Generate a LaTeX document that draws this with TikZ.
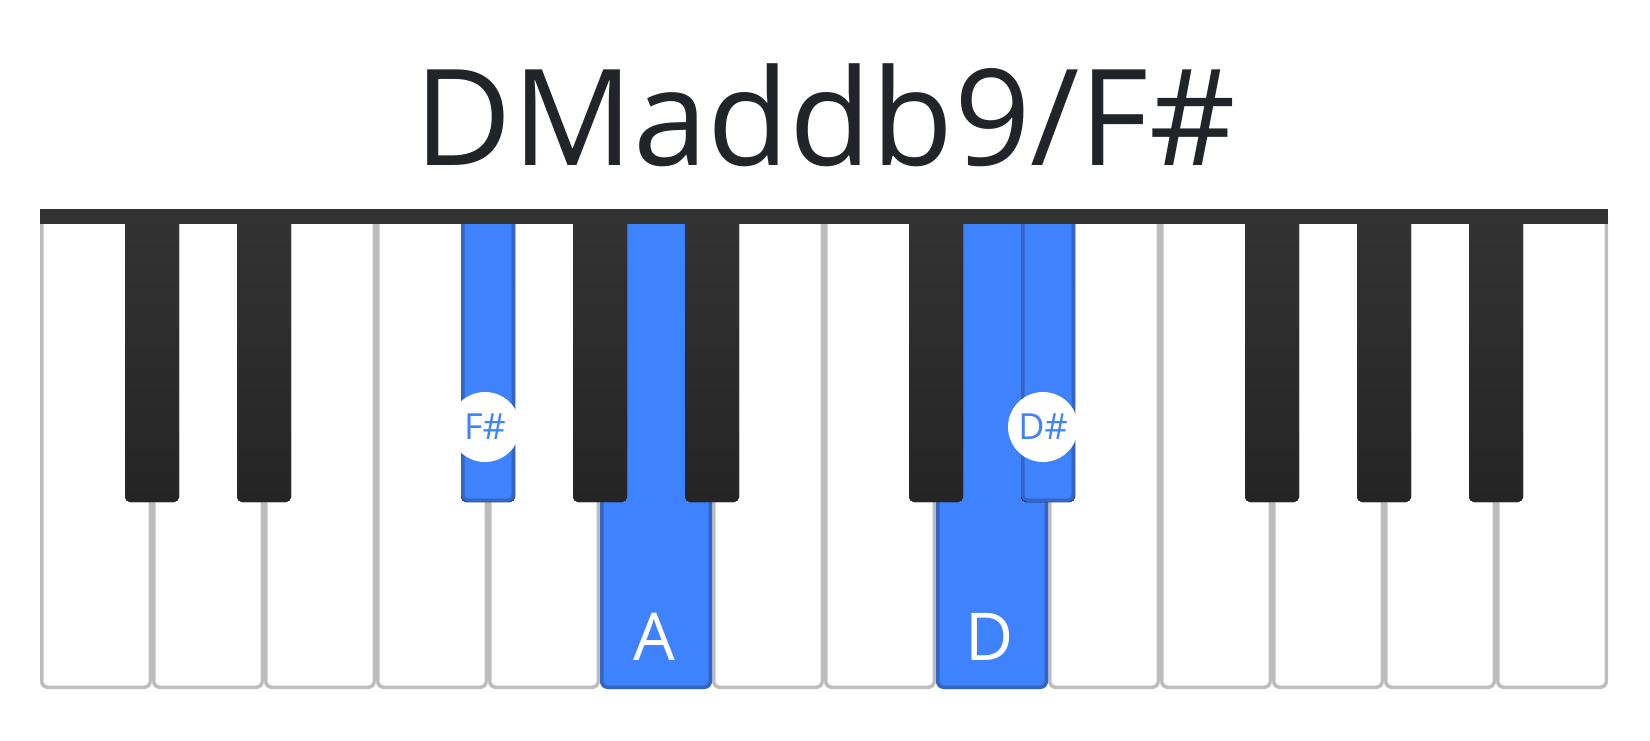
\documentclass[tikz,border=0pt]{standalone}
\usepackage{fontspec}
\setmainfont{Open Sans}
\usepackage{tikz}
\usetikzlibrary{positioning}
\definecolor{titlegray}{HTML}{212529}
\definecolor{bargray}{HTML}{333333}
\definecolor{keygray}{HTML}{BDBDBD}
\definecolor{keyblue}{HTML}{3F82FE}
\definecolor{keyblueedge}{HTML}{3366C4}
\definecolor{blacktop}{HTML}{333333}
\definecolor{blackbot}{HTML}{252525}
\tikzset{
  whitekey/.style={fill=white, draw=keygray, line width=3.5pt, rounded corners=6pt},
  whitehit/.style={fill=keyblue, draw=keyblueedge, line width=3.5pt, rounded corners=6pt},
  blackkey/.style={top color=blacktop, bottom color=blackbot, draw=none, rounded corners=5pt},
  blackhit/.style={fill=keyblue, draw=keyblueedge, line width=3.5pt, rounded corners=5pt},
  notelabel/.style={text=white, font=\fontsize{66}{66}\selectfont},
  notedot/.style={circle, fill=white, minimum size=70pt, inner sep=0pt, text=keyblue, font=\fontsize{36}{36}\selectfont}
}

\begin{document}
\begin{tikzpicture}[x=1pt,y=-1pt]
            \useasboundingbox (0,0) rectangle (1650,740);

            % chord name
            \node[anchor=base, text=titlegray, font=\fontsize{134}{134}\selectfont] (title) at (825,165) {DMaddb9/F\#};

            % white keys, C to B twice
            \foreach \i in {0,...,13}
                \draw[whitekey] ({40+112*\i+1.75},215) -- ({40+112*\i+1.75},687.25) -- ({40+112*(\i+1)-1.75},687.25) -- ({40+112*(\i+1)-1.75},215);
            \foreach \i in {5,8}
                \draw[whitehit] ({40+112*\i+1.75},215) -- ({40+112*\i+1.75},687.25) -- ({40+112*(\i+1)-1.75},687.25) -- ({40+112*(\i+1)-1.75},215);

            % black keys sit on the gaps
            \foreach \b in {1,2,4,5,6,8,9,11,12,13}
                \fill[blackkey] ({40+112*\b-27},212) rectangle ({40+112*\b+27},502);
            \foreach \b in {4,9}
                \draw[blackhit] ({40+112*\b-25.25},212) rectangle ({40+112*\b+25.25},500.25);

            % top bar
            \fill[bargray] (40,209) rectangle (1608,224);

            \node[notelabel, anchor=base] (noteA) at (654,660) {A};
            \node[notelabel, anchor=base] (noteD) at (990,660) {D};
            \node[notedot] (noteFs) at (485,427) {F\#};
            \node[notedot] (noteDs) at (1043,427) {D\#};
\end{tikzpicture}
\end{document}
